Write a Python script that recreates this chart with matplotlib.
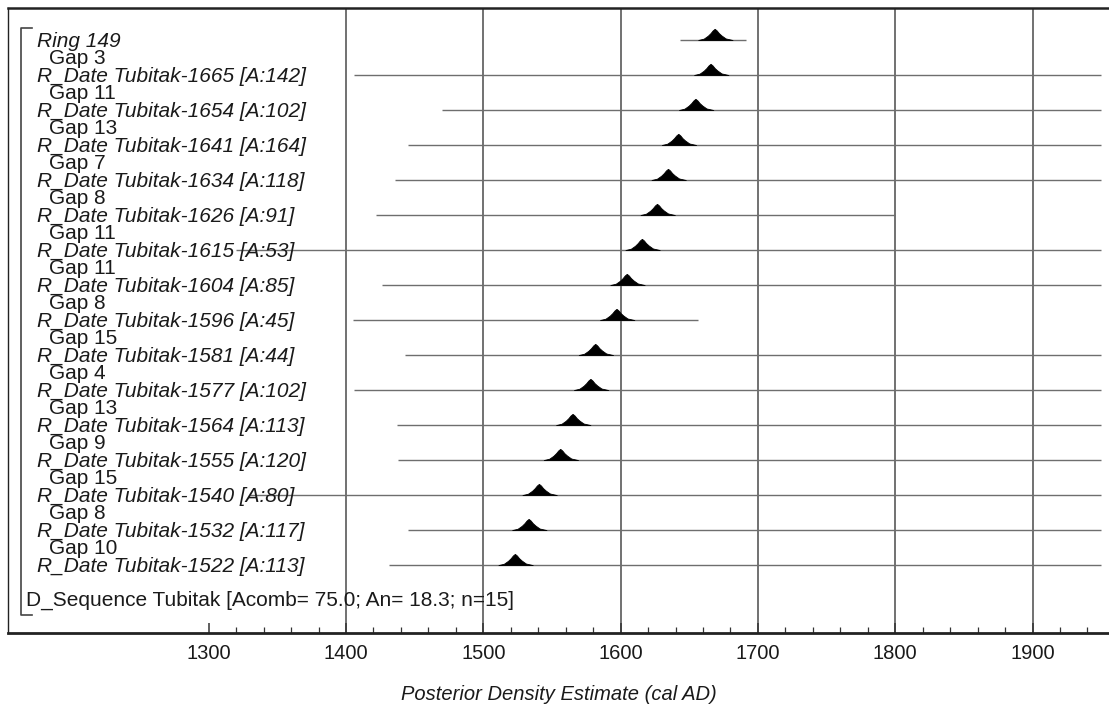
import numpy as np
import matplotlib
matplotlib.use("Agg")
import matplotlib.pyplot as plt
import matplotlib.transforms as mtransforms
from matplotlib.ticker import FixedLocator

plt.rcParams['font.family'] = ['Liberation Sans', 'DejaVu Sans']

# rows, top to bottom
labels = ["Ring 149",
          "R_Date Tubitak-1665 [A:142]", "R_Date Tubitak-1654 [A:102]",
          "R_Date Tubitak-1641 [A:164]", "R_Date Tubitak-1634 [A:118]",
          "R_Date Tubitak-1626 [A:91]", "R_Date Tubitak-1615 [A:53]",
          "R_Date Tubitak-1604 [A:85]", "R_Date Tubitak-1596 [A:45]",
          "R_Date Tubitak-1581 [A:44]", "R_Date Tubitak-1577 [A:102]",
          "R_Date Tubitak-1564 [A:113]", "R_Date Tubitak-1555 [A:120]",
          "R_Date Tubitak-1540 [A:80]", "R_Date Tubitak-1532 [A:117]",
          "R_Date Tubitak-1522 [A:113]"]
gaps = [3, 11, 13, 7, 8, 11, 11, 8, 15, 4, 13, 9, 15, 8, 10]
seq_label = "D_Sequence Tubitak [Acomb= 75.0; An= 18.3; n=15]"

# posterior peak (cal AD) and extent of the likelihood trace
peak_year = [1668.5, 1665.5, 1654.5, 1642, 1634.5, 1626.5, 1615.5, 1604.5,
             1597, 1581.5, 1578, 1565, 1556, 1540.5, 1533, 1523]
line_start = [1643, 1406, 1470, 1445, 1436, 1422, 1320, 1426,
              1405, 1443, 1406, 1437, 1438, 1330, 1445, 1431]
line_end = [1691, 1950, 1950, 1950, 1950, 1800, 1950, 1950,
            1656, 1950, 1950, 1950, 1950, 1950, 1950, 1950]

# shape of a posterior peak (years offset, rel. height)
prof_dx = [-12, -8, -5, -3, -1.5, 0, 1.5, 3, 5, 8, 13]
prof_h = [0, 0.12, 0.38, 0.62, 0.85, 1.0, 0.85, 0.62, 0.40, 0.14, 0]

fig = plt.figure(figsize=(11.09, 7.08), dpi=100)
ax = fig.add_axes([8/1109, 75/708, 1101/1109, 625/708])

amp = 0.32
for i in range(len(labels)):
    ax.plot([line_start[i], line_end[i]], [i, i], color='#6e6e6e', lw=1.0,
            zorder=2, solid_capstyle='butt')
    xs = peak_year[i] + np.array(prof_dx)
    ys = i - amp*np.array(prof_h)
    ax.fill_between(xs, i, ys, color='black', lw=0.6, edgecolor='black', zorder=3)

ax.set_xlim(1153.8, 1955.7)
ax.set_ylim(16.94, -0.914)

# grid at 1400..1900
for g in range(1400, 2000, 100):
    ax.axvline(g, color='#4a4a4a', lw=1.1, zorder=1)

ax.xaxis.set_major_locator(FixedLocator(range(1300, 2000, 100)))
ax.xaxis.set_minor_locator(FixedLocator([v for v in range(1300, 1960, 20) if v % 100]))
ax.tick_params(axis='x', which='major', direction='in', length=7.5, width=1.1,
               labelsize=14.5, pad=8, color='#333333', labelcolor='#1a1a1a')
ax.tick_params(axis='x', which='minor', direction='in', length=4, width=0.9,
               color='#333333')
ax.set_yticks([])
ax.set_xlabel("Posterior Density Estimate (cal AD)", fontsize=14.5,
              style='italic', labelpad=16, color='#1a1a1a')

ax.spines['right'].set_visible(False)
ax.spines['top'].set_linewidth(1.8)
ax.spines['bottom'].set_linewidth(2.0)
ax.spines['left'].set_linewidth(1.0)
for s in ax.spines.values():
    s.set_color('#222222')

# row labels
fs = 15
trans = mtransforms.blended_transform_factory(ax.transAxes, ax.transData)
for i, lab in enumerate(labels):
    ax.text(0.0263, i + 0.03, lab, transform=trans, fontsize=fs,
            style='italic', va='center', ha='left', color='#1a1a1a', zorder=4)
for i, g in enumerate(gaps):
    ax.text(0.0372, i + 1 - 0.46, "Gap %d" % g, transform=trans, fontsize=fs,
            va='center', ha='left', color='#1a1a1a', zorder=4)
ax.text(0.0163, 16, seq_label, transform=trans, fontsize=fs, va='center',
        ha='left', color='#1a1a1a', zorder=4)

# sequence bracket
ax.plot([0.0218, 0.0118, 0.0118, 0.0218], [-0.343, -0.343, 16.43, 16.43],
        transform=trans, color='#444444', lw=1.2, clip_on=False)

fig.savefig("out.png", dpi=100)
